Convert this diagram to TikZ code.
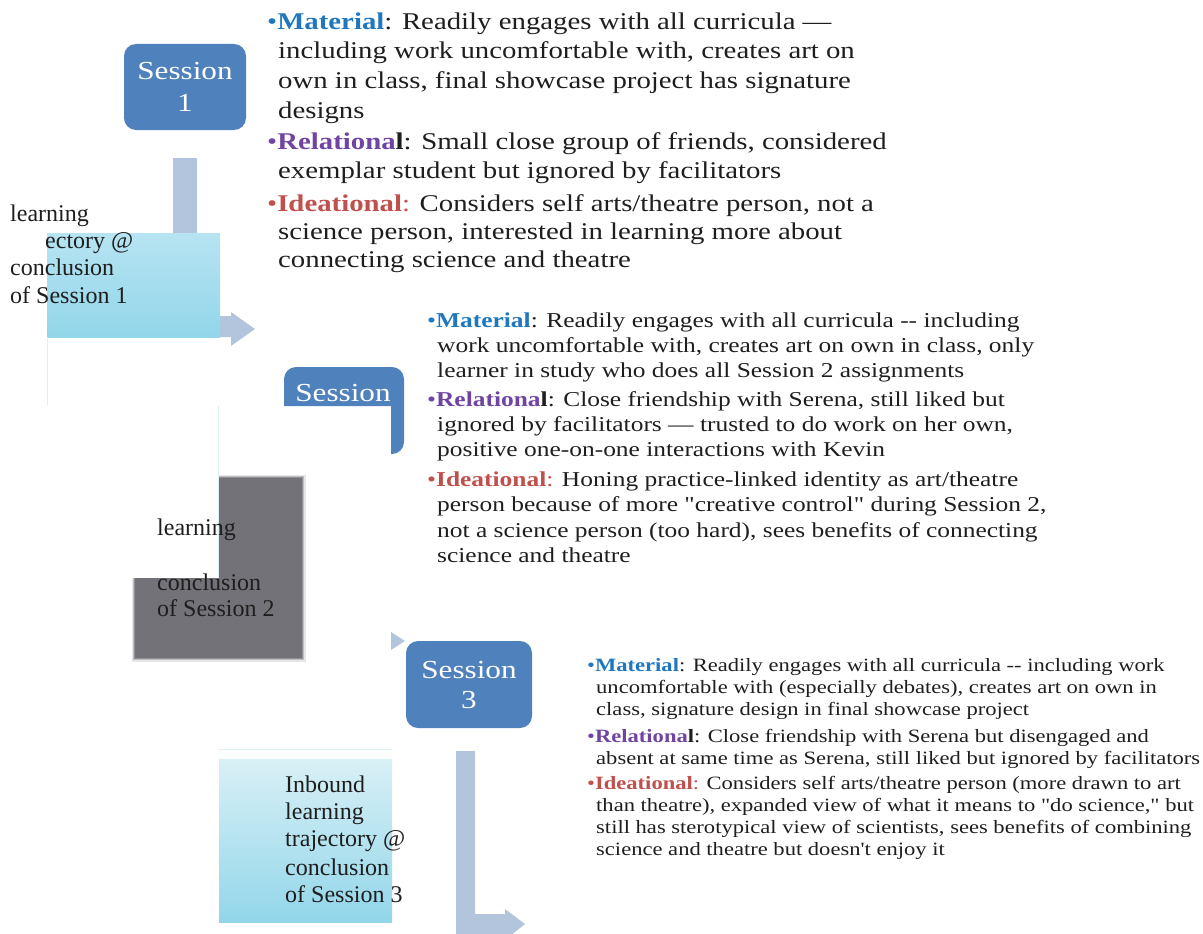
\documentclass[tikz,border=0pt]{standalone}
\usepackage{fontspec}
\setmainfont{Liberation Serif}[Ligatures=TeXOff]
\newfontfamily\camb{Liberation Serif}[FakeStretch=1.2,Ligatures=TeXOff]
\definecolor{sess}{HTML}{4F81BD}
\definecolor{arr}{HTML}{B3C5DC}
\definecolor{cyanT}{HTML}{B7E4F2}
\definecolor{cyanB}{HTML}{92D6EA}
\definecolor{cyanTT}{HTML}{D9F0F6}
\definecolor{faint}{HTML}{DDF1F7}
\definecolor{shadegray}{HTML}{737278}
\definecolor{mat}{HTML}{1F77BF}
\definecolor{rel}{HTML}{7044A2}
\definecolor{idea}{HTML}{C0504D}
\definecolor{body}{HTML}{1E1E1E}
\tikzset{
  bA/.style={anchor=base west, inner sep=0pt, text=body, font=\camb\fontsize{24}{29}\selectfont},
  bB/.style={anchor=base west, inner sep=0pt, text=body, font=\camb\fontsize{21.2}{25}\selectfont},
  bC/.style={anchor=base west, inner sep=0pt, text=body, font=\camb\fontsize{18.8}{22}\selectfont},
  lt/.style={anchor=base west, inner sep=0pt, text=body, font=\fontsize{24}{28}\selectfont},
  sessbox/.style={fill=sess, rounded corners=12pt, inner sep=0pt},
  sesstxt/.style={anchor=base, inner sep=0pt, text=white, font=\camb\fontsize{26}{31}\selectfont},
  arrowfill/.style={fill=arr},
  faintline/.style={draw=faint, line width=1pt},
}
\newcommand{\Mat}{{\color{mat}•\textbf{Material}}}
\newcommand{\Rel}{{\color{rel}•\textbf{Relationa}}\textbf{l}}
\newcommand{\Ide}{{\color{idea}•\textbf{Ideational}:}}
\begin{document}
\begin{tikzpicture}[x=1pt,y=-1pt]
\useasboundingbox (0,0) rectangle (1203,934);
\clip (0,0) rectangle (1203,934);

% ---------- arrow from Session 1 ----------
\fill[arrowfill] (173,158) -- (197,158) -- (197,316) -- (231,316) -- (231,312)
  -- (255,329) -- (231,346) -- (231,337) -- (173,337) -- cycle;
% cyan box 1
\shade[top color=cyanT, bottom color=cyanB] (47,233) rectangle (220,337);
\draw[faintline] (47,337) -- (47,405);

% Session 1
\node[sessbox, minimum width=122pt, minimum height=86pt] (s1) at (185,87) {};
\node[sesstxt] (s1a) at (185,80) {Session};
\node[sesstxt] (s1b) at (185,111.5) {1};

% left text of box 1
\node[lt] (l1a) at (10,221) {learning};
\node[lt] (l1b) at (45,248) {ectory @};
\node[lt] (l1c) at (10,275) {conclusion};
\node[lt] (l1d) at (10,303) {of Session 1};

% ---------- Session 2 (partial) ----------
\fill[sess] (284,406) -- (284,379) arc[start angle=180,end angle=270,radius=12]
  -- (392,367) arc[start angle=270,end angle=360,radius=12] -- (404,442)
  arc[start angle=0,end angle=90,radius=12] -- (391,454) -- (391,406) -- cycle;
\node[sesstxt] (s2) at (343,401.7) {Session};

% ---------- gray blurred box ----------
\draw[shadegray, line width=7pt, opacity=0.18] (135,478) rectangle (302,658);
\draw[shadegray, line width=4pt, opacity=0.35] (135,478) rectangle (302,658);
\draw[shadegray, line width=1.5pt, opacity=0.6] (135,478) rectangle (302,658);
\fill[shadegray] (135,478) rectangle (302,658);
\fill[white] (110,460) rectangle (218,578);
\draw[faintline] (218,406) -- (218,578);
\node[lt] (l2a) at (157,535) {learning};
\node[lt] (l2c) at (157,590) {conclusion};
\node[lt] (l2d) at (157,616.7) {of Session 2};

% small arrow head toward Session 3
\fill[arrowfill] (391,632) -- (405,641) -- (391,650) -- cycle;

% ---------- Session 3 ----------
\node[sessbox, minimum width=126pt, minimum height=87pt] (s3) at (469,684.5) {};
\node[sesstxt] (s3a) at (469,678) {Session};
\node[sesstxt] (s3b) at (469,708) {3};

% arrow below Session 3
\fill[arrowfill] (456,751) -- (475,751) -- (475,914) -- (505,914) -- (505,909)
  -- (525,924) -- (505,940) -- (456,940) -- cycle;

% cyan box 3
\fill[white!96!cyanT] (219,749) rectangle (392,759);
\draw[faint, line width=0.6pt] (219,749) -- (392,749);
\shade[top color=cyanTT, bottom color=cyanB] (219,759) rectangle (392,922);
\node[lt] (l3a) at (285,792.7) {Inbound};
\node[lt] (l3b) at (285,819) {learning};
\node[lt] (l3c) at (285,846.7) {trajectory @};
\node[lt] (l3d) at (285,875) {conclusion};
\node[lt] (l3e) at (285,902.7) {of Session 3};

% ---------- text block 1 ----------
\node[bA] (a1) at (267,29.5) {\Mat: Readily engages with all curricula —};
\node[bA] (a2) at (278,59) {including work uncomfortable with, creates art on};
\node[bA] (a3) at (278,88.5) {own in class, final showcase project has signature};
\node[bA] (a4) at (278,118) {designs};
\node[bA] (a5) at (267,149.5) {\Rel: Small close group of friends, considered};
\node[bA] (a6) at (278,178.5) {exemplar student but ignored by facilitators};
\node[bA] (a7) at (267,211) {\Ide{} Considers self arts/theatre person, not a};
\node[bA] (a8) at (278,239.5) {science person, interested in learning more about};
\node[bA] (a9) at (278,267.5) {connecting science and theatre};

% ---------- text block 2 ----------
\node[bB] (b1) at (427,327) {\Mat: Readily engages with all curricula -- including};
\node[bB] (b2) at (437,352) {work uncomfortable with, creates art on own in class, only};
\node[bB] (b3) at (437,377) {learner in study who does all Session 2 assignments};
\node[bB] (b4) at (427,406) {\Rel: Close friendship with Serena, still liked but};
\node[bB] (b5) at (437,431.5) {ignored by facilitators — trusted to do work on her own,};
\node[bB] (b6) at (437,456.5) {positive one-on-one interactions with Kevin};
\node[bB] (b7) at (427,486.5) {\Ide{} Honing practice-linked identity as art/theatre};
\node[bB] (b8) at (437,511.5) {person because of more "creative control" during Session 2,};
\node[bB] (b9) at (437,537) {not a science person (too hard), sees benefits of connecting};
\node[bB] (b10) at (437,562) {science and theatre};

% ---------- text block 3 ----------
\node[bC] (c1) at (587,671.7) {\Mat: Readily engages with all curricula -- including work};
\node[bC] (c2) at (596,693.5) {uncomfortable with (especially debates), creates art on own in};
\node[bC] (c3) at (596,715.5) {class, signature design in final showcase project};
\node[bC] (c4) at (587,742.5) {\Rel: Close friendship with Serena but disengaged and};
\node[bC] (c5) at (596,764) {absent at same time as Serena, still liked but ignored by facilitators};
\node[bC] (c6) at (587,789) {\Ide{} Considers self arts/theatre person (more drawn to art};
\node[bC] (c7) at (596,811) {than theatre), expanded view of what it means to "do science," but};
\node[bC] (c8) at (596,833) {still has sterotypical view of scientists, sees benefits of combining};
\node[bC] (c9) at (596,855) {science and theatre but doesn't enjoy it};
\end{tikzpicture}
\end{document}
